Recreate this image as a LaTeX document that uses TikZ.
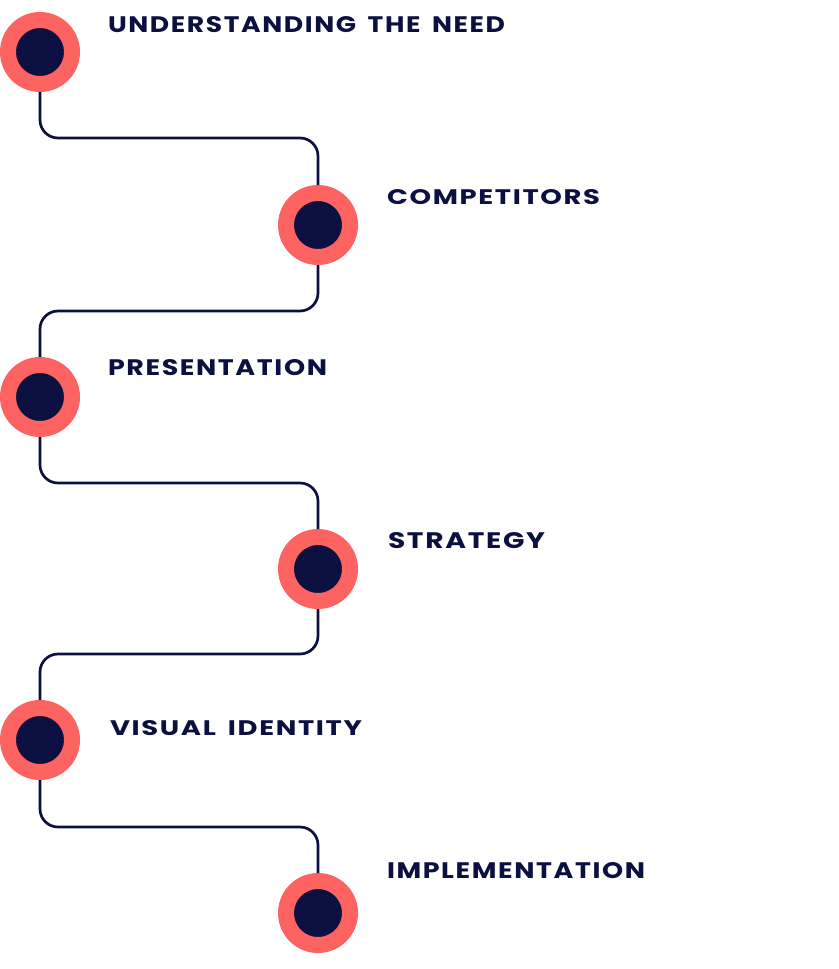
\documentclass[tikz,border=0pt]{standalone}
\usepackage{fontspec}
\setmainfont{Poppins}
\usepackage{graphicx}
\definecolor{coral}{HTML}{FD6461}
\definecolor{navy}{HTML}{0B1040}
\begin{document}
\begin{tikzpicture}[x=1pt,y=-1pt,
  stepdot/.style={circle,fill=navy,draw=coral,line width=16pt,minimum size=64pt,inner sep=0pt},
  steplabel/.style={anchor=base west,inner sep=0pt,outer sep=0pt,text=navy},
  conn/.style={draw=navy,line width=2.7pt,rounded corners=18pt}]
\useasboundingbox (0,0) rectangle (838,969);
\newcommand{\lab}[3]{\resizebox{#1pt}{#2pt}{\fontspec{Poppins}[LetterSpace=6,WordSpace=1.6]\bfseries #3}}
\node[stepdot] (c1) at (40,52) {};
\node[stepdot] (c2) at (318,225) {};
\node[stepdot] (c3) at (40,397) {};
\node[stepdot] (c4) at (318,569) {};
\node[stepdot] (c5) at (40,740) {};
\node[stepdot] (c6) at (318,913) {};
\node[steplabel] (t1) at (108,33) {\lab{397}{16}{UNDERSTANDING THE NEED}};
\node[steplabel] (t2) at (387,204) {\lab{213}{15}{COMPETITORS}};
\node[steplabel] (t3) at (108,375) {\lab{219}{16}{PRESENTATION}};
\node[steplabel] (t4) at (388,548) {\lab{157}{16}{STRATEGY}};
\node[steplabel] (t5) at (110,735) {\lab{252}{15}{VISUAL IDENTITY}};
\node[steplabel] (t6) at (387,878) {\lab{258}{16}{IMPLEMENTATION}};
\coordinate (h1) at (179,138);
\coordinate (h2) at (179,311);
\coordinate (h3) at (179,483);
\coordinate (h4) at (179,654);
\coordinate (h5) at (179,827);
\draw[conn] (c1.south) |- (h1) -| (c2.north);
\draw[conn] (c2.south) |- (h2) -| (c3.north);
\draw[conn] (c3.south) |- (h3) -| (c4.north);
\draw[conn] (c4.south) |- (h4) -| (c5.north);
\draw[conn] (c5.south) |- (h5) -| (c6.north);
\end{tikzpicture}
\end{document}
